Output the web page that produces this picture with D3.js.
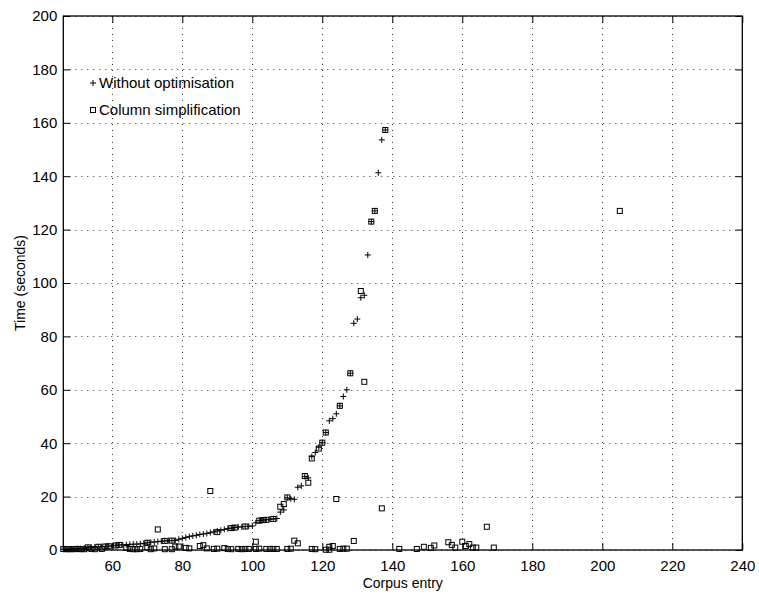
<!DOCTYPE html>
<html>
<head>
<meta charset="utf-8">
<script src="https://cdn.jsdelivr.net/npm/d3@7"></script>
<style>
  body { margin: 0; background: #fff; }
  text { font-family: "Liberation Sans", Arial, Helvetica, sans-serif; fill: #000; }
</style>
</head>
<body>
<div id="chart"></div>
<script>
////////////////// Data ////////////////////
// Without optimisation: one point per corpus entry, 46..138
var plainEntries = d3.range(46, 139);
var plainTimes = [
  0.3, 0.3, 0.4, 0.4, 0.5, 0.5, 0.6, 0.8, 1.0, 1.1,
  1.2, 1.3, 1.3, 1.4, 1.6, 1.8, 1.9, 1.9, 2.0, 2.1,
  2.2, 2.2, 2.3, 2.5, 2.7, 2.9, 3.0, 3.1, 3.3, 3.4,
  3.5, 3.5, 3.6, 4.0, 4.3, 4.7, 5.0, 5.3, 5.5, 5.8,
  6.0, 6.2, 6.5, 6.8, 7.1, 7.4, 7.7, 8.0, 8.2, 8.4,
  8.6, 8.7, 8.8, 8.9, 9.0, 10.2, 11.0, 11.2, 11.3, 11.5,
  11.6, 11.8, 14.2, 15.0, 19.5, 19.2, 19.0, 23.5, 24.0, 27.5,
  27.0, 35.0, 36.5, 38.5, 40.2, 44.0, 48.4, 49.2, 51.0, 54.0,
  57.5, 60.0, 66.2, 84.9, 86.5, 94.5, 95.4, 110.5, 123.0, 127.0,
  141.3, 153.6, 157.3
];

// Column simplification
var simpEntries = [
  46, 47, 48, 49, 50, 51, 52, 53, 54, 55, 56, 57, 58, 59, 61, 62,
  64, 65, 66, 67, 68, 70, 70, 71, 72, 73, 75, 75, 77, 77,
  78, 79, 81, 82, 85, 86, 87, 88, 89, 90, 90, 92, 93, 94, 94, 95,
  96, 97, 98, 98, 99, 101, 101, 102, 102, 103, 104, 104, 105, 106, 106, 107,
  108, 109, 110, 110, 111, 112, 113, 115, 116, 117, 117, 118, 119, 120, 121, 121,
  122, 122, 123, 124, 125, 125, 126, 127, 128, 129, 131, 132, 134, 135, 137, 138,
  142, 147, 149, 151, 152, 156, 157, 158, 160, 161, 162, 163, 164, 167, 169, 205
];
var simpTimes = [
  0.4, 0.3, 0.3, 0.3, 0.4, 0.3, 0.3, 1.0, 0.4, 0.3, 1.2, 0.4, 1.3, 1.4, 1.7, 1.9,
  0.8, 0.4, 0.3, 0.3, 0.4, 1.0, 2.7, 0.3, 0.6, 7.7, 3.4, 0.3, 3.5, 0.3,
  1.3, 1.3, 0.8, 0.6, 1.5, 1.8, 0.6, 22.1, 0.4, 0.5, 6.7, 0.7, 0.4, 0.3, 8.2, 8.4,
  0.4, 0.3, 0.4, 8.8, 0.4, 3.1, 0.4, 0.5, 11.0, 11.2, 0.4, 11.3, 0.4, 0.4, 11.6, 0.4,
  16.2, 17.2, 19.7, 0.4, 0.5, 3.5, 2.5, 27.7, 25.2, 34.3, 0.4, 0.3, 38.0, 40.2, 44.0, 0.1,
  1.2, 0.1, 1.5, 19.1, 54.0, 0.4, 0.5, 0.5, 66.2, 3.4, 97.0, 63.0, 123.0, 127.0, 15.6, 157.3,
  0.4, 0.4, 1.2, 0.8, 1.7, 2.9, 1.9, 0.9, 3.1, 1.5, 2.2, 0.9, 0.9, 8.7, 0.9, 127.0
];

var xTicks = [60, 80, 100, 120, 140, 160, 180, 200, 220, 240];
var yTicks = [0, 20, 40, 60, 80, 100, 120, 140, 160, 180, 200];
var legendLabels = ["Without optimisation", "Column simplification"];

////////////////// Chart Parameters ////////////////////
var svgWidth = 759;
var svgHeight = 596;
var plotLeft = 63.3, plotRight = 742.3, plotTop = 16, plotBottom = 550;
var tickLen = 7;

var svg = d3.select("#chart").append("svg")
  .attr("width", svgWidth)
  .attr("height", svgHeight);

svg.append("rect")
  .attr("width", svgWidth)
  .attr("height", svgHeight)
  .attr("fill", "#fff");

////////// Scales //////////
var xScale = d3.scaleLinear().domain([46, 240]).range([plotLeft, plotRight]);
var yScale = d3.scaleLinear().domain([0, 200]).range([plotBottom, plotTop]);

////////// Grid (dotted) //////////
var grid = svg.append("g")
  .attr("stroke", "#333")
  .attr("stroke-width", 1)
  .attr("stroke-dasharray", "1,5");

grid.selectAll("line.vgrid")
  .data(xTicks)
  .enter()
  .append("line")
  .attr("x1", d => Math.round(xScale(d)) + 0.5)
  .attr("x2", d => Math.round(xScale(d)) + 0.5)
  .attr("y1", plotTop)
  .attr("y2", plotBottom);

grid.selectAll("line.hgrid")
  .data(yTicks)
  .enter()
  .append("line")
  .attr("x1", plotLeft)
  .attr("x2", plotRight)
  .attr("y1", d => Math.round(yScale(d)) + 0.5)
  .attr("y2", d => Math.round(yScale(d)) + 0.5);

////////// Axes (ticks pointing inward on all four sides) //////////
var xAxis = d3.axisBottom(xScale).tickValues(xTicks).tickSizeInner(-tickLen).tickSizeOuter(0).tickPadding(10);
var yAxis = d3.axisLeft(yScale).tickValues(yTicks).tickSizeInner(-tickLen).tickSizeOuter(0).tickPadding(6);
var xAxisTop = d3.axisTop(xScale).tickValues(xTicks).tickSizeInner(-tickLen).tickSizeOuter(0).tickFormat("");
var yAxisRight = d3.axisRight(yScale).tickValues(yTicks).tickSizeInner(-tickLen).tickSizeOuter(0).tickFormat("");

function styleAxis(g) {
  g.select(".domain").remove();
  g.selectAll(".tick line").attr("stroke", "#000");
  g.selectAll(".tick text")
    .attr("font-size", 15)
    .attr("font-family", "'Liberation Sans', Arial, sans-serif")
    .attr("fill", "#000");
}

svg.append("g").attr("transform", `translate(0, ${plotBottom})`).call(xAxis).call(styleAxis);
svg.append("g").attr("transform", `translate(${plotLeft}, 0)`).call(yAxis).call(styleAxis);
svg.append("g").attr("transform", `translate(0, ${plotTop})`).call(xAxisTop).call(styleAxis);
svg.append("g").attr("transform", `translate(${plotRight}, 0)`).call(yAxisRight).call(styleAxis);

// box
svg.append("rect")
  .attr("x", plotLeft)
  .attr("y", plotTop)
  .attr("width", plotRight - plotLeft)
  .attr("height", plotBottom - plotTop)
  .attr("fill", "none")
  .attr("stroke", "#000")
  .attr("stroke-width", 1.3);

////////// Points //////////
var plusPath = "M-3,0H3M0,-3V3";

var simpData = simpEntries.map((e, i) => ({ x: e, y: simpTimes[i] }));
var plainData = plainEntries.map((e, i) => ({ x: e, y: plainTimes[i] }));

svg.append("g").selectAll("rect")
  .data(simpData)
  .enter()
  .append("rect")
  .attr("x", d => xScale(d.x) - 2.5)
  .attr("y", d => yScale(d.y) - 2.5)
  .attr("width", 5)
  .attr("height", 5)
  .attr("fill", "none")
  .attr("stroke", "#000")
  .attr("stroke-width", 1);

svg.append("g").selectAll("path")
  .data(plainData)
  .enter()
  .append("path")
  .attr("transform", d => `translate(${xScale(d.x)}, ${yScale(d.y)})`)
  .attr("d", plusPath)
  .attr("fill", "none")
  .attr("stroke", "#000")
  .attr("stroke-width", 1);

////////// Legend //////////
var legend = svg.append("g");
legend.append("path")
  .attr("transform", "translate(93, 83)")
  .attr("d", plusPath)
  .attr("stroke", "#000");
legend.append("rect")
  .attr("x", 90.5).attr("y", 107.5)
  .attr("width", 5).attr("height", 5)
  .attr("fill", "none")
  .attr("stroke", "#000");
legend.selectAll("text")
  .data(legendLabels)
  .enter()
  .append("text")
  .attr("x", 99)
  .attr("y", (d, i) => 83 + i * 27)
  .attr("dy", "0.35em")
  .attr("font-size", 15)
  .text(d => d);

////////// Axis labels //////////
svg.append("text")
  .attr("x", (plotLeft + plotRight) / 2)
  .attr("y", 588)
  .attr("text-anchor", "middle")
  .attr("font-size", 14)
  .text("Corpus entry");

svg.append("text")
  .attr("transform", `translate(25, ${(plotTop + plotBottom) / 2}) rotate(-90)`)
  .attr("text-anchor", "middle")
  .attr("font-size", 14)
  .text("Time (seconds)");
</script>
</body>
</html>
